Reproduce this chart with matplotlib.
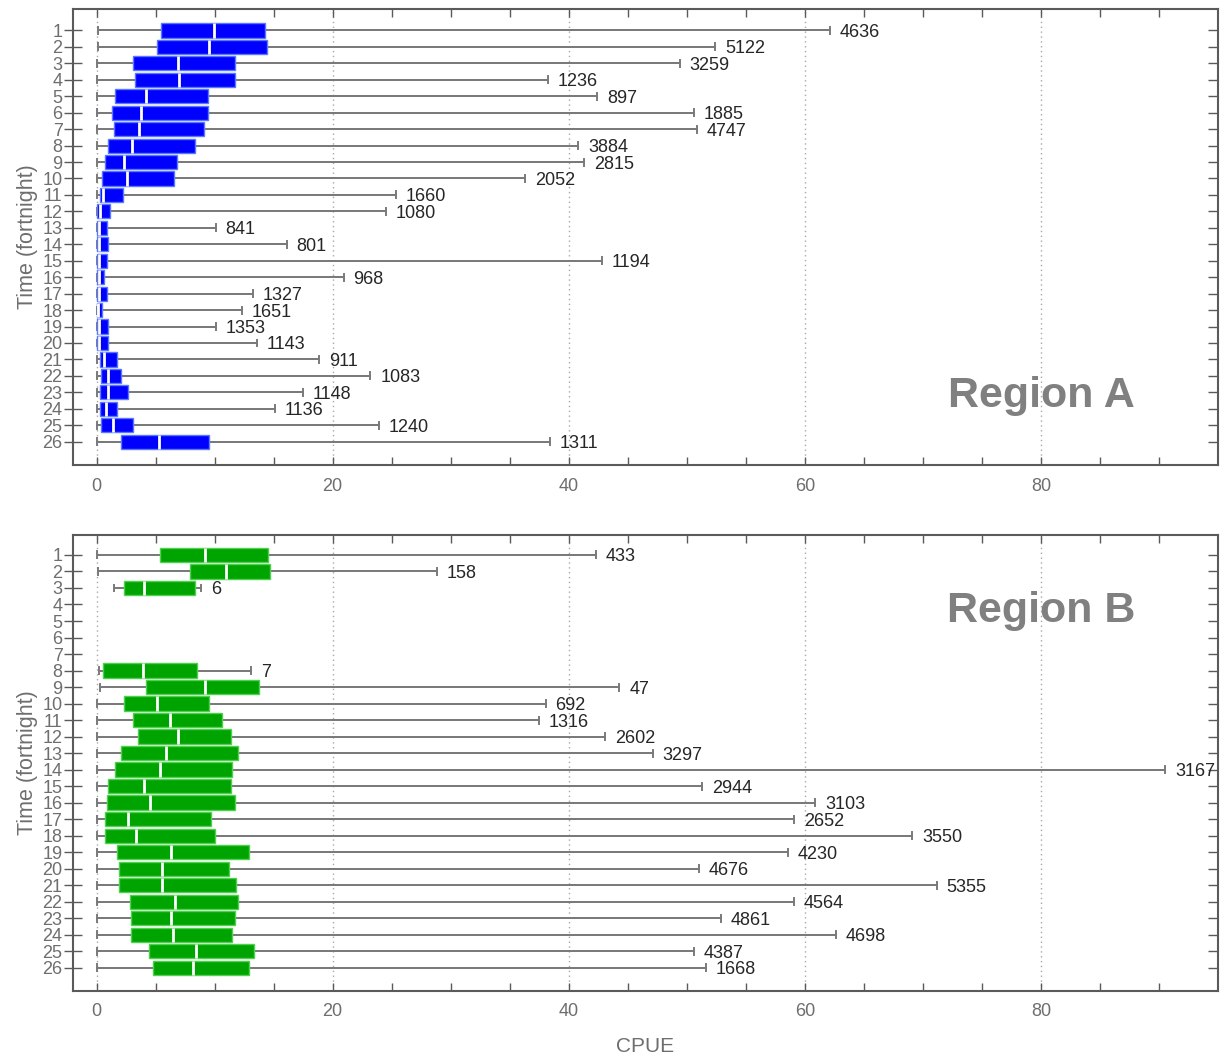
import matplotlib
matplotlib.use("Agg")
import matplotlib.pyplot as plt
import numpy as np

plt.rcParams['font.family'] = ['Liberation Sans', 'DejaVu Sans']

# Fortnight positions (1..26)
fortnights = list(range(1, 27))

# ---- Region A: CPUE summaries per fortnight (min, q1, median, q3, max) and sample sizes
a_min = [0.1, 0.1, 0.0, 0.0, 0.0, 0.0, 0.0, 0.0, 0.0, 0.0, 0.0, 0.0, 0.0,
         0.0, 0.0, 0.0, 0.0, 0.0, 0.0, 0.0, 0.0, 0.0, 0.0, 0.0, 0.0, 0.0]
a_q1 = [5.5, 5.1, 3.1, 3.25, 1.6, 1.3, 1.45, 1.0, 0.7, 0.5, 0.25, 0.07, 0.02,
        0.02, 0.02, 0.02, 0.02, 0.02, 0.05, 0.05, 0.25, 0.4, 0.25, 0.25, 0.4, 2.05]
a_med = [9.95, 9.5, 6.9, 6.95, 4.2, 3.75, 3.6, 3.0, 2.3, 2.55, 0.55, 0.25, 0.2,
         0.2, 0.2, 0.2, 0.2, 0.15, 0.2, 0.2, 0.65, 1.0, 0.95, 0.8, 1.4, 5.25]
a_q3 = [14.25, 14.4, 11.7, 11.7, 9.45, 9.45, 9.1, 8.35, 6.85, 6.55, 2.2, 1.15, 0.85,
        1.0, 0.85, 0.65, 0.85, 0.5, 1.0, 1.0, 1.75, 2.05, 2.65, 1.75, 3.1, 9.55]
a_max = [62.1, 52.4, 49.4, 38.25, 42.4, 50.6, 50.9, 40.8, 41.3, 36.3, 25.4, 24.5, 10.1,
         16.1, 42.8, 20.95, 13.25, 12.35, 10.1, 13.55, 18.85, 23.2, 17.5, 15.1, 23.95, 38.4]
a_n = [4636, 5122, 3259, 1236, 897, 1885, 4747, 3884, 2815, 2052, 1660, 1080, 841,
       801, 1194, 968, 1327, 1651, 1353, 1143, 911, 1083, 1148, 1136, 1240, 1311]

# ---- Region B (fortnights 4-7 have no samples)
b_pos = [1, 2, 3, 8, 9, 10, 11, 12, 13, 14, 15, 16, 17, 18, 19, 20, 21, 22, 23, 24, 25, 26]
b_min = [0.0, 0.1, 1.5, 0.2, 0.3, 0.0, 0.0, 0.0, 0.0, 0.0, 0.0, 0.0, 0.0, 0.0, 0.0,
         0.0, 0.0, 0.0, 0.0, 0.0, 0.0, 0.0]
b_q1 = [5.35, 7.95, 2.35, 0.55, 4.15, 2.35, 3.1, 3.55, 2.05, 1.6, 1.0, 0.85, 0.7, 0.7,
        1.75, 1.9, 1.9, 2.8, 2.95, 2.95, 4.45, 4.75]
b_med = [9.15, 11.0, 4.05, 3.95, 9.2, 5.1, 6.2, 6.9, 5.85, 5.4, 4.05, 4.5, 2.7, 3.3,
         6.3, 5.55, 5.55, 6.65, 6.3, 6.5, 8.45, 8.15]
b_q3 = [14.55, 14.7, 8.35, 8.5, 13.75, 9.55, 10.6, 11.35, 11.95, 11.5, 11.35, 11.7,
        9.7, 10.0, 12.9, 11.25, 11.8, 12.0, 11.7, 11.5, 13.3, 12.9]
b_max = [42.3, 28.8, 8.85, 13.1, 44.3, 38.05, 37.5, 43.1, 47.1, 90.55, 51.3, 60.9,
         59.1, 69.1, 58.6, 51.0, 71.2, 59.1, 52.9, 62.65, 50.6, 51.6]
b_n = [433, 158, 6, 7, 47, 692, 1316, 2602, 3297, 3167, 2944, 3103, 2652, 3550,
       4230, 4676, 5355, 4564, 4861, 4698, 4387, 1668]

x_ticks = [0, 20, 40, 60, 80]

GRAY_TXT = '#6e6e6e'
SPINE = '#5a5a5a'
WHISK = '#7a7a7a'


def box_panel(ax, pos, vmin, q1, med, q3, vmax, counts, face, edge, title, title_y, ylim):
    stats = [dict(whislo=lo, q1=a, med=m, q3=b, whishi=hi, fliers=[])
             for lo, a, m, b, hi in zip(vmin, q1, med, q3, vmax)]
    # grid first so boxes sit on top
    for gx in x_ticks:
        ax.axvline(gx, color='#a8a8a8', lw=1.0, ls=(0, (1, 2.5)), zorder=0)
    ax.bxp(stats, positions=pos, orientation='horizontal', widths=0.86,
           capwidths=0.42, patch_artist=True, showfliers=False,
           boxprops=dict(facecolor=face, edgecolor=edge, linewidth=1.0, zorder=3),
           medianprops=dict(color='white', linewidth=2.0, zorder=4),
           whiskerprops=dict(color=WHISK, linewidth=1.4, zorder=2),
           capprops=dict(color=WHISK, linewidth=1.4, zorder=2),
           manage_ticks=False)
    # whisker line running through the box, behind it
    for p, lo, hi in zip(pos, vmin, vmax):
        ax.plot([lo, hi], [p, p], color=WHISK, lw=1.4, zorder=1,
                solid_capstyle='butt')
    for p, hi, n in zip(pos, vmax, counts):
        ax.annotate(str(n), xy=(hi, p), xytext=(7, 0), textcoords='offset points',
                    ha='left', va='center_baseline', fontsize=13, color='#262626',
                    annotation_clip=False, clip_on=True)
    ax.set_xlim(-2, 95)
    ax.set_ylim(*ylim)
    ax.set_yticks(fortnights)
    ax.set_yticklabels([str(f) for f in fortnights])
    ax.set_xticks(x_ticks)
    ax.set_xticks(np.arange(0, 95, 5), minor=True)
    ax.tick_params(axis='x', which='both', direction='in', top=True, bottom=True,
                   length=6, width=1.0, color=SPINE, labelsize=13,
                   labelcolor=GRAY_TXT, pad=9)
    ax.tick_params(axis='y', which='major', direction='inout', left=True, right=False,
                   length=13, width=1.0, color=SPINE, labelsize=13,
                   labelcolor=GRAY_TXT, pad=1)
    # inward ticks along the right spine
    sec = ax.secondary_yaxis('right')
    sec.set_yticks(fortnights)
    sec.tick_params(axis='y', direction='in', length=7, width=1.0, color=SPINE,
                    labelright=False)
    sec.spines['right'].set_visible(False)
    for s in ax.spines.values():
        s.set_color(SPINE)
        s.set_linewidth(1.5)
    ax.set_ylabel('Time (fortnight)', fontsize=15.5, color=GRAY_TXT, labelpad=3)
    ax.text(80, title_y, title, ha='center', va='baseline', fontsize=31,
            fontweight='bold', color='#808080', zorder=5)


fig = plt.figure(figsize=(12.22, 10.55), dpi=100)
ax_a = fig.add_axes([0.0597, 0.5592, 0.937, 0.4322])
ax_b = fig.add_axes([0.0597, 0.0607, 0.937, 0.4322])

box_panel(ax_a, fortnights, a_min, a_q1, a_med, a_q3, a_max, a_n,
          '#0000ff', '#5a78ff', 'Region A', 23.9, (27.42, -0.3))
box_panel(ax_b, b_pos, b_min, b_q1, b_med, b_q3, b_max, b_n,
          '#00a400', '#4fd04f', 'Region B', 5.05, (27.41, -0.21))

ax_b.set_xlabel('CPUE', fontsize=15, color=GRAY_TXT, labelpad=12)

fig.savefig('out.png', dpi=100)
